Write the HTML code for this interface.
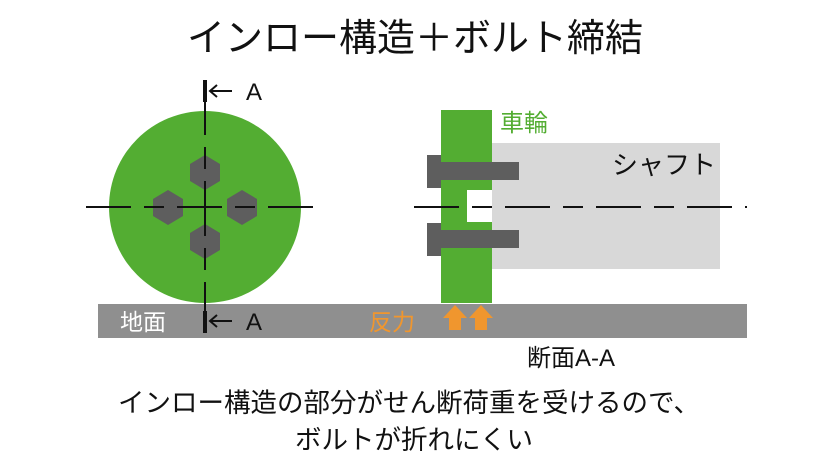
<!DOCTYPE html>
<html><head><meta charset="utf-8"><style>
body{margin:0;background:#fff;}
svg text{font-family:"Liberation Sans","Noto Sans CJK JP",sans-serif;}
</style></head><body>
<svg width="828" height="466" viewBox="0 0 828 466" xmlns="http://www.w3.org/2000/svg">
<rect width="828" height="466" fill="#fff"/>
<text x="415" y="51" font-size="38" text-anchor="middle" fill="#111">インロー構造＋ボルト締結</text>
<rect x="98" y="304" width="649" height="34" fill="#8f8f8f"/>
<text x="120" y="330" font-size="23" fill="#fff">地面</text>
<text x="369" y="330" font-size="23" fill="#f0962e">反力</text>
<circle cx="205" cy="207" r="96" fill="#53ad32"/>
<g fill="#5e5e5e">
<polygon points="205,155 220,164 220,181 205,190 190,181 190,164"/>
<polygon points="205,224 220,233 220,250 205,259 190,250 190,233"/>
<polygon points="168,190 183,199 183,216 168,225 153,216 153,199"/>
<polygon points="242,190 257,199 257,216 242,225 227,216 227,199"/>
</g>
<line x1="86" y1="207" x2="325" y2="207" stroke="#111" stroke-width="2" stroke-dasharray="45,13,20,13,45,13,20,13"/>
<line x1="205" y1="80" x2="205" y2="332" stroke="#111" stroke-width="2" stroke-dasharray="55,12,22,12"/>
<line x1="205" y1="80" x2="205" y2="102" stroke="#111" stroke-width="4"/>
<line x1="205" y1="311" x2="205" y2="333" stroke="#111" stroke-width="4"/>
<g stroke="#111" stroke-width="2" fill="none">
<line x1="210" y1="91" x2="232" y2="91"/><polyline points="217,85 210,91 217,97"/>
<line x1="210" y1="321" x2="232" y2="321"/><polyline points="217,315 210,321 217,327"/>
</g>
<text x="246" y="100" font-size="24" fill="#111">A</text>
<text x="246" y="330" font-size="24" fill="#111">A</text>
<rect x="492" y="143" width="228" height="126" fill="#d8d8d8"/>
<path d="M441,110 H492 V190 H467 V222 H492 V303 H441 Z" fill="#53ad32"/>
<g fill="#5e5e5e">
<rect x="427" y="155" width="14" height="33"/><rect x="441" y="162" width="78" height="18"/>
<rect x="427" y="223" width="14" height="33"/><rect x="441" y="230" width="78" height="18"/>
</g>
<line x1="414" y1="207" x2="747" y2="207" stroke="#111" stroke-width="2" stroke-dasharray="45,13,20,13"/>
<g fill="#f0962e">
<polygon points="455,305 467,318 461,318 461,330 449,330 449,318 443,318"/>
<polygon points="481,305 493,318 487,318 487,330 475,330 475,318 469,318"/>
</g>
<text x="500" y="131" font-size="24" fill="#53ad32">車輪</text>
<text x="612" y="174" font-size="26" fill="#111">シャフト</text>
<text x="527" y="366" font-size="24" fill="#111">断面A-A</text>
<text x="409" y="412" font-size="26.5" text-anchor="middle" fill="#111">インロー構造の部分がせん断荷重を受けるので、</text>
<text x="414" y="449" font-size="26.5" text-anchor="middle" fill="#111">ボルトが折れにくい</text>
</svg>
</body></html>
